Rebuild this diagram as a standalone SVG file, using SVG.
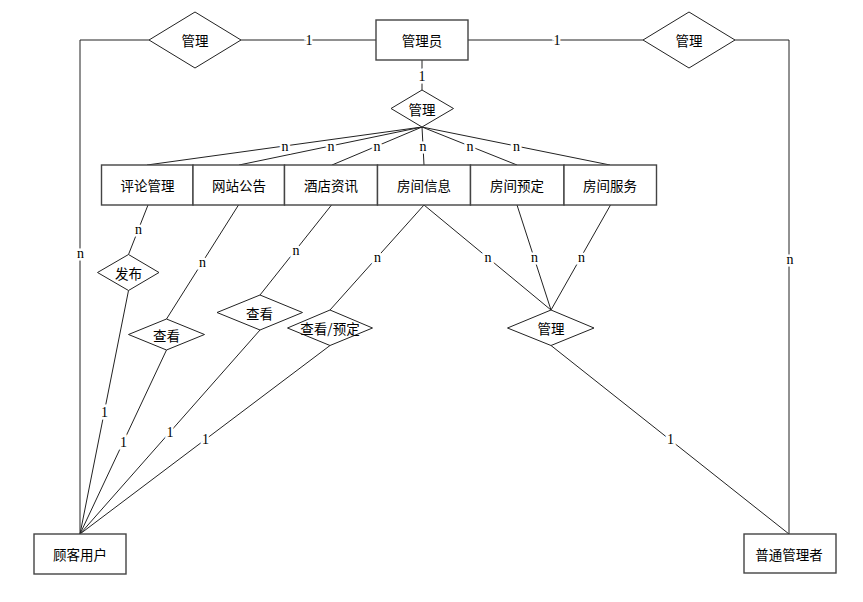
<svg xmlns="http://www.w3.org/2000/svg" width="863" height="602" viewBox="0 0 863 602">
<style>
.ent{fill:#fff;stroke:#444;stroke-width:1.4}
.rel{fill:#fff;stroke:#222;stroke-width:1}
.t{font-family:"Noto Sans CJK SC","Liberation Sans",sans-serif;font-size:13.5px;fill:#000;text-anchor:middle;dominant-baseline:central}
.ln{fill:none;stroke:#222;stroke-width:1}
.lb{font-family:"Liberation Serif",serif;font-size:14px;fill:#000;text-anchor:middle;dominant-baseline:central;stroke:#fff;stroke-width:5;paint-order:stroke}
</style>
<rect width="863" height="602" fill="#fff"/>
<g id="connectors">
<polyline class="ln" points="149,40 80,40 80,534"/>
<line class="ln" x1="241" y1="40" x2="376" y2="40"/>
<line class="ln" x1="468" y1="40" x2="643" y2="40"/>
<polyline class="ln" points="735,40 789,40 789,534"/>
<line class="ln" x1="422" y1="60" x2="422" y2="90"/>
<line class="ln" x1="422" y1="127" x2="147" y2="165"/>
<line class="ln" x1="422" y1="127" x2="239" y2="165"/>
<line class="ln" x1="422" y1="127" x2="332" y2="165"/>
<line class="ln" x1="422" y1="127" x2="424" y2="165"/>
<line class="ln" x1="422" y1="127" x2="517" y2="165"/>
<line class="ln" x1="422" y1="127" x2="610" y2="165"/>
<line class="ln" x1="148" y1="205" x2="128.5" y2="254.5"/>
<line class="ln" x1="128.5" y1="290.5" x2="80" y2="534"/>
<line class="ln" x1="238.5" y1="205" x2="166.5" y2="319"/>
<line class="ln" x1="166.5" y1="350" x2="80" y2="534"/>
<line class="ln" x1="331.5" y1="205" x2="260" y2="295"/>
<line class="ln" x1="260" y1="330" x2="80" y2="534"/>
<line class="ln" x1="424" y1="205" x2="330" y2="310"/>
<line class="ln" x1="330" y1="345.5" x2="80" y2="534"/>
<line class="ln" x1="424" y1="205" x2="551" y2="310"/>
<line class="ln" x1="517" y1="205" x2="551" y2="310"/>
<line class="ln" x1="610.5" y1="205" x2="551" y2="310"/>
<line class="ln" x1="551" y1="345.5" x2="789" y2="534"/>
<text class="lb" x="309" y="40">1</text>
<text class="lb" x="557" y="40">1</text>
<text class="lb" x="422" y="76">1</text>
<text class="lb" x="285" y="146">n</text>
<text class="lb" x="331" y="146">n</text>
<text class="lb" x="377" y="146">n</text>
<text class="lb" x="423" y="146">n</text>
<text class="lb" x="470" y="146">n</text>
<text class="lb" x="516.5" y="146">n</text>
<text class="lb" x="80.5" y="253">n</text>
<text class="lb" x="790" y="259">n</text>
<text class="lb" x="138.5" y="229.5">n</text>
<text class="lb" x="104.5" y="412">1</text>
<text class="lb" x="202.5" y="262">n</text>
<text class="lb" x="123.5" y="442">1</text>
<text class="lb" x="296" y="250">n</text>
<text class="lb" x="170" y="432">1</text>
<text class="lb" x="377.5" y="257">n</text>
<text class="lb" x="205.5" y="439.5">1</text>
<text class="lb" x="488" y="257.5">n</text>
<text class="lb" x="534.5" y="257.5">n</text>
<text class="lb" x="581.5" y="257.5">n</text>
<text class="lb" x="670.5" y="439">1</text>
</g>
<g id="admin"><rect class="ent" x="376" y="20" width="92" height="40"/><text class="t" x="422" y="40">管理员</text></g>
<g id="rel-left"><polygon class="rel" points="149,40 195,12 241,40 195,68"/><text class="t" x="195" y="40">管理</text></g>
<g id="rel-right"><polygon class="rel" points="643,40 689,12 735,40 689,68"/><text class="t" x="689" y="40">管理</text></g>
<g id="rel-mid"><polygon class="rel" points="391,108.5 422,90 453.5,108.5 422,127"/><text class="t" x="422" y="108.5">管理</text></g>
<g id="e-comment"><rect class="ent" x="101.5" y="165" width="91.5" height="40"/><text class="t" x="147.5" y="185">评论管理</text></g>
<g id="e-notice"><rect class="ent" x="193" y="165" width="91.5" height="40"/><text class="t" x="239" y="185">网站公告</text></g>
<g id="e-news"><rect class="ent" x="284.5" y="165" width="93" height="40"/><text class="t" x="331" y="185">酒店资讯</text></g>
<g id="e-roominfo"><rect class="ent" x="377.5" y="165" width="93" height="40"/><text class="t" x="424" y="185">房间信息</text></g>
<g id="e-booking"><rect class="ent" x="470.5" y="165" width="93.5" height="40"/><text class="t" x="517" y="185">房间预定</text></g>
<g id="e-service"><rect class="ent" x="564" y="165" width="92.5" height="40"/><text class="t" x="610" y="185">房间服务</text></g>
<g id="r-publish"><polygon class="rel" points="97.5,272.5 128.5,254.5 159,272.5 128.5,290.5"/><text class="t" x="128.5" y="272.5">发布</text></g>
<g id="r-view1"><polygon class="rel" points="128.5,334.5 166.5,319 204.5,334.5 166.5,350"/><text class="t" x="166.5" y="334.5">查看</text></g>
<g id="r-view2"><polygon class="rel" points="217,312.5 260,295 302.5,312.5 260,330"/><text class="t" x="259.5" y="312.5">查看</text></g>
<g id="r-viewbook"><polygon class="rel" points="287.5,328 330,310 372.5,328 330,345.5"/><text class="t" x="330" y="328">查看/预定</text></g>
<g id="r-manage"><polygon class="rel" points="507.5,328 551,310 594,328 551,345.5"/><text class="t" x="551" y="328">管理</text></g>
<g id="customer"><rect class="ent" x="34" y="534" width="92" height="40"/><text class="t" x="80" y="554">顾客用户</text></g>
<g id="staff"><rect class="ent" x="744" y="534" width="92" height="39"/><text class="t" x="789" y="553.5">普通管理者</text></g>
</svg>
